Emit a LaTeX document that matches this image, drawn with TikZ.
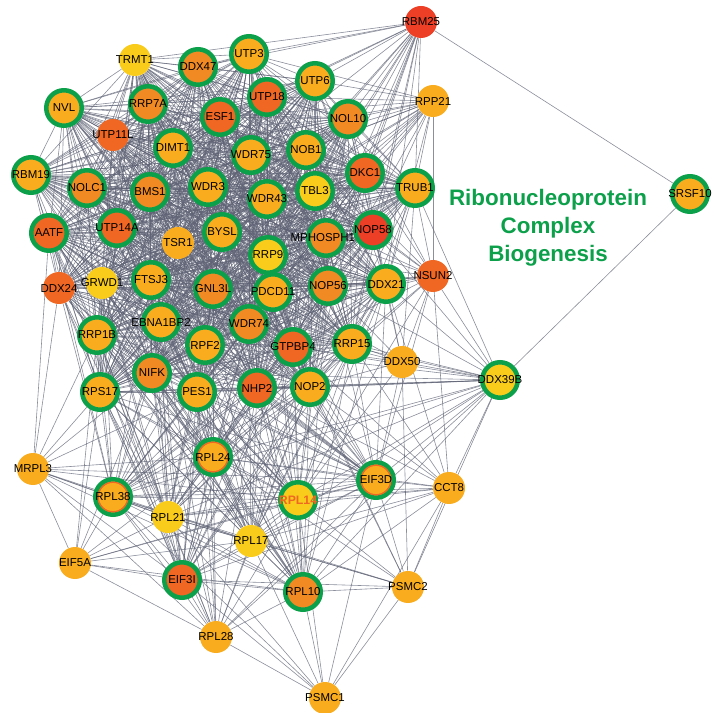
\documentclass[tikz,border=0pt]{standalone}
\usepackage{fontspec}
\setmainfont{Liberation Sans}
\usetikzlibrary{backgrounds}
\definecolor{cY}{HTML}{F9CB1B}
\definecolor{cLO}{HTML}{F8AC1E}
\definecolor{cO}{HTML}{F18A22}
\definecolor{cDO}{HTML}{EF6722}
\definecolor{cR}{HTML}{EC3F25}
\definecolor{cG}{HTML}{0DA04B}
\definecolor{cE}{HTML}{5E6274}
\begin{document}
\begin{tikzpicture}[x=0.75pt,y=-0.75pt,
 ring/.style={circle,draw=cG,line width=3.4pt,minimum size=26.6pt,inner sep=0pt},
 plain/.style={circle,minimum size=24pt,inner sep=0pt},
 lbl/.style={font=\fontsize{8.6}{10}\selectfont,text=black,inner sep=0pt},
 edge/.style={draw=cE,line width=0.45pt,opacity=0.72},
 title/.style={font=\bfseries\fontsize{16.8}{21}\selectfont,text=cG,align=center,inner sep=0pt}]
\useasboundingbox (0,0) rectangle (715,713);

% ringed nodes
\foreach \n/\x/\y/\c in {DDX47/198/67/cO,UTP3/249/54/cLO,UTP6/315/81/cLO,NVL/64/108/cLO,RRP7A/148/104/cO,
 UTP18/267/97/cDO,ESF1/220/117/cDO,NOL10/348/119/cO,DIMT1/173/148/cLO,WDR75/251/155/cLO,NOB1/306/150/cLO,
 DKC1/365/173/cDO,RBM19/31/175/cLO,NOLC1/87/188/cO,BMS1/150/192/cO,WDR3/208/187/cLO,WDR43/267/199/cLO,
 TBL3/315/191/cY,TRUB1/415/188/cLO,AATF/49/233/cDO,UTP14A/117/228/cDO,BYSL/222/232/cLO,MPHOSPH10/326/238/cO,
 NOP58/373/230/cR,RRP9/268/255/cY,FTSJ3/151/280/cLO,GNL3L/213/289/cO,PDCD11/273/292/cLO,NOP56/328/286/cO,
 DDX21/386/284/cLO,EBNA1BP2/161/322/cLO,WDR74/249/324/cO,RRP1B/97/335/cLO,RPF2/205/345/cLO,GTPBP4/293/347/cDO,
 RRP15/352/344/cLO,NIFK/152/373/cO,RPS17/100/392/cLO,PES1/197/392/cLO,NHP2/257/388/cDO,NOP2/310/387/cLO,
 DDX39B/500/380/cY,SRSF10/690/194/cLO,EIF3I/182/580/cDO,RPL10/303/592/cO}
 {\node[ring,fill=\c] (\n) at (\x,\y) {}; \node[lbl] (\n-t) at (\n) {\n};}

% plain nodes
\foreach \n/\x/\y/\c in {RBM25/421/22/cR,TRMT1/135/60/cY,RPP21/433/101/cLO,UTP11L/113/135/cDO,TSR1/178/243/cLO,
 DDX24/59/288/cDO,GRWD1/102/283/cY,NSUN2/433/276/cDO,DDX50/402/362/cLO,MRPL3/33/469/cLO,CCT8/449/488/cLO,
 RPL21/168/517/cY,RPL17/251/541/cY,EIF5A/75/563/cLO,PSMC2/408/587/cLO,RPL28/216/637/cLO,PSMC1/325/698/cLO}
 {\node[plain,fill=\c] (\n) at (\x,\y) {}; \node[lbl] (\n-t) at (\n) {\n};}

% ringed nodes with inner orange ring
\foreach \n/\x/\y in {RPL24/213/457,RPL38/113/497,EIF3D/376/480}
 {\node[ring,fill=cLO] (\n) at (\x,\y) {};
  \draw[cDO,line width=1pt] (\n.center) circle (11.1pt);
  \node[lbl] (\n-t) at (\n) {\n};}
\node[ring,fill=cY] (RPL14) at (298,500) {};
\node[lbl,font=\bfseries\fontsize{9.2}{10}\selectfont,text=cDO] (RPL14-t) at (RPL14) {RPL14};

\node[title] (title) at (548,228) {Ribonucleoprotein\\Complex\\Biogenesis};

\def\core{TRMT1,DDX47,UTP3,UTP6,NVL,RRP7A,UTP18,ESF1,NOL10,UTP11L,DIMT1,WDR75,NOB1,DKC1,RBM19,NOLC1,BMS1,WDR3,WDR43,TBL3,TRUB1,AATF,UTP14A,TSR1,BYSL,MPHOSPH10,NOP58,RRP9,DDX24,GRWD1,FTSJ3,GNL3L,PDCD11,NOP56,DDX21,EBNA1BP2,WDR74,RRP1B,RPF2,GTPBP4,RRP15,NIFK,RPS17,PES1,NHP2,NOP2}
\def\lowr{RPL24,RPL38,RPL14,EIF3D,RPL21,RPL17,EIF3I,RPL10,RPL28}
\def\lowcore{RPS17,NIFK,PES1,NHP2,NOP2,RPF2,GTPBP4,RRP15,RRP1B,EBNA1BP2,WDR74,DDX24,GRWD1,NOP56,PDCD11,GNL3L,FTSJ3,DDX21,AATF}

\begin{pgfonlayer}{background}
% dense core
\foreach \a [count=\i] in \core {
  \foreach \b [count=\j] in \core {
    \ifnum\j>\i \draw[edge] (\a) -- (\b); \fi
  }
}
% lower ribosomal cluster
\foreach \a [count=\i] in \lowr {
  \foreach \b [count=\j] in \lowr {
    \ifnum\j>\i \draw[edge] (\a) -- (\b); \fi
  }
}
\foreach \a in {RPL24,RPL38,RPL14,EIF3D,RPL21,RPL17,EIF3I,RPL10}
  \foreach \b in \lowcore \draw[edge] (\a) -- (\b);
\foreach \b in {RPS17,NIFK,PES1,NHP2,RPF2,RRP1B,EBNA1BP2,NOP2} \draw[edge] (RPL28) -- (\b);
% peripheral nodes
\foreach \b in {TRMT1,DDX47,UTP3,UTP6,NOL10,UTP18,NOB1,DKC1,TRUB1,NOP58,DDX21,TBL3,MPHOSPH10,NOP56,WDR43,WDR75,ESF1,RRP15,SRSF10,RRP9,PDCD11,GTPBP4}
  \draw[edge] (RBM25) -- (\b);
\foreach \b in {UTP6,NOL10,UTP3,UTP18,NOB1,DKC1,TRUB1,TBL3,WDR43,WDR75,ESF1,WDR3,BYSL,MPHOSPH10,NOP58,RRP9,PDCD11,NOP56,DDX21,NSUN2,GNL3L,DIMT1}
  \draw[edge] (RPP21) -- (\b);
\foreach \b in {TRUB1,DKC1,NOP58,DDX21,NOP56,MPHOSPH10,PDCD11,RRP9,WDR43,TBL3,NOB1,NOL10,RRP15,GTPBP4,DDX39B,DDX50,NOP2,EIF3D,CCT8,RPL14,WDR74,GNL3L}
  \draw[edge] (NSUN2) -- (\b);
\foreach \b in {RRP15,DDX21,NOP56,GTPBP4,NOP2,DDX39B,WDR74,PDCD11,RPL14,EIF3D,PSMC2,TRUB1,NOP58}
  \draw[edge] (DDX50) -- (\b);
\foreach \b in {SRSF10,TRUB1,DDX21,NOP58,RRP15,NOP2,GTPBP4,NHP2,NIFK,RPS17,PES1,RPL14,EIF3D,CCT8,RPL10,RPL24,RPL38,RPF2,RPL17,PSMC2,RPL21,RPL28,NOP56,WDR74}
  \draw[edge] (DDX39B) -- (\b);
\foreach \b in {RPL38,RPL24,RPL21,EIF3I,RPL14,RPL10,RPS17,RRP1B,NIFK,DDX24,AATF,EIF5A,RPL28,RPL17,PES1,EIF3D}
  \draw[edge] (MRPL3) -- (\b);
\foreach \b in {RPL38,RPL21,EIF3I,RPL24,RPL14,RPL10,RPL28,RPS17,RRP1B,NIFK,RPL17,EIF3D}
  \draw[edge] (EIF5A) -- (\b);
\foreach \b in {EIF3D,RPL14,RPL24,RPL38,RPL21,RPL10,PSMC2,PSMC1,NOP2,NHP2,RRP15,DDX21,GTPBP4,EIF3I,RPL17}
  \draw[edge] (CCT8) -- (\b);
\foreach \b in {EIF3D,RPL14,RPL10,RPL17,RPL38,EIF3I,PSMC1,RPL24,NOP2,GTPBP4,RPL21}
  \draw[edge] (PSMC2) -- (\b);
\foreach \b in {RPL10,EIF3I,RPL28,RPL14,EIF3D,RPL38,RPL17,RPL21}
  \draw[edge] (PSMC1) -- (\b);
\end{pgfonlayer}
\end{tikzpicture}
\end{document}
